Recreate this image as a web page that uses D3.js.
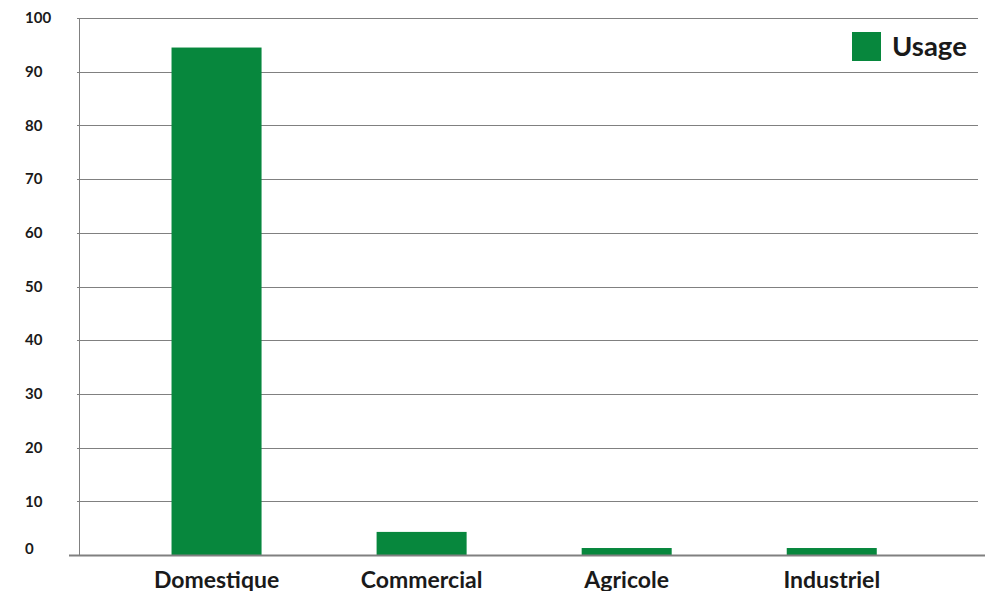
<!DOCTYPE html>
<html>
<head>
<meta charset="utf-8">
<script src="https://cdn.jsdelivr.net/npm/d3@7"></script>
<style>
  html, body { margin: 0; padding: 0; background: #fff; }
  svg { display: block; font-family: Lato, "Open Sans", sans-serif; }
</style>
</head>
<body>
<svg id="chart" width="994" height="591"></svg>
<script>
// Water use by sector (%)
const categories = ["Domestique", "Commercial", "Agricole", "Industriel"];
const usage = [94.5, 4.3, 1.3, 1.3];
const yTicks = [0, 10, 20, 30, 40, 50, 60, 70, 80, 90, 100];
const seriesName = "Usage";

const green = "#07873d";
const gridColor = "#808080";

const svg = d3.select("#chart");
const plotLeft = 79, plotRight = 977, plotTop = 18, plotBottom = 555;

const x = d3.scaleBand()
  .domain(categories)
  .range([plotLeft, plotRight])
  .paddingInner(0.561)
  .paddingOuter(0.47)
  .align(0.48);

const y = d3.scaleLinear().domain([0, 100]).range([plotBottom, plotTop]);

// horizontal gridlines
svg.append("g")
  .selectAll("line")
  .data(yTicks.filter(d => d > 0))
  .join("line")
  .attr("x1", plotLeft - 2)
  .attr("x2", plotRight + 1)
  .attr("y1", d => Math.round(y(d)) + 0.5)
  .attr("y2", d => Math.round(y(d)) + 0.5)
  .attr("stroke", gridColor)
  .attr("stroke-width", 1);

// y tick labels
svg.append("g")
  .selectAll("text")
  .data(yTicks)
  .join("text")
  .attr("x", 25)
  .attr("y", d => y(d) + (d === 0 ? -6 : 0))
  .attr("dy", "0.35em")
  .attr("font-size", 15)
  .attr("font-weight", 700)
  .attr("fill", "#1a1a1a")
  .text(d => d);

// bars
svg.append("g")
  .selectAll("rect")
  .data(categories.map((c, i) => ({ c, v: usage[i] })))
  .join("rect")
  .attr("x", d => x(d.c))
  .attr("width", x.bandwidth())
  .attr("y", d => y(d.v))
  .attr("height", d => y(0) - y(d.v))
  .attr("fill", green);

// vertical axis line
svg.append("line")
  .attr("x1", plotLeft + 0.5).attr("x2", plotLeft + 0.5)
  .attr("y1", plotTop).attr("y2", plotBottom)
  .attr("stroke", gridColor).attr("stroke-width", 1);

// baseline
svg.append("line")
  .attr("x1", 69).attr("x2", 985)
  .attr("y1", plotBottom + 0.5).attr("y2", plotBottom + 0.5)
  .attr("stroke", gridColor).attr("stroke-width", 2);

// category labels
svg.append("g")
  .selectAll("text")
  .data(categories)
  .join("text")
  .attr("x", d => x(d) + x.bandwidth() / 2)
  .attr("y", 588)
  .attr("text-anchor", "middle")
  .attr("font-size", 23)
  .attr("font-weight", 700)
  .attr("fill", "#1a1a1a")
  .text(d => d);

// legend
const legend = svg.append("g");
legend.append("rect")
  .attr("x", 852).attr("y", 32)
  .attr("width", 29).attr("height", 29)
  .attr("fill", green);
legend.append("text")
  .attr("x", 892).attr("y", 56)
  .attr("font-size", 27.5)
  .attr("font-weight", 700)
  .attr("fill", "#1a1a1a")
  .text(seriesName);
</script>
</body>
</html>
